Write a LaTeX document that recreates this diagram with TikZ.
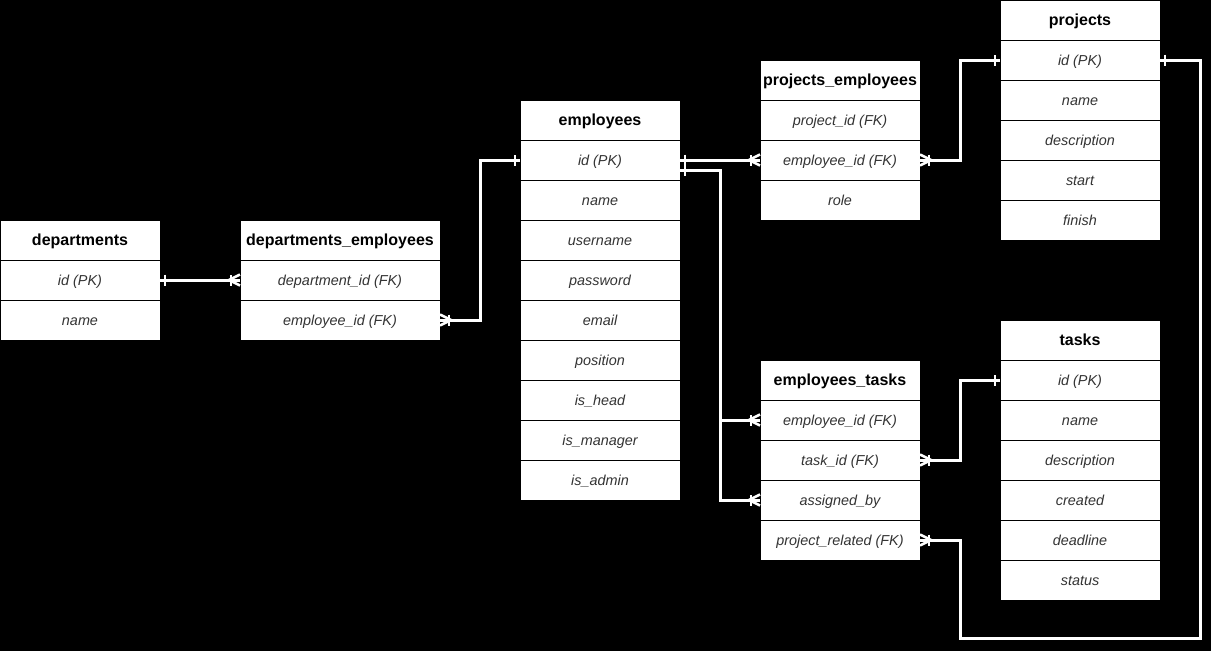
\documentclass[tikz,border=0pt]{standalone}
\usepackage{fontspec}
\setmainfont{Liberation Sans}
\usetikzlibrary{calc}
\definecolor{rowtext}{HTML}{333333}

\tikzset{
  cell/.style={draw=black, fill=white, line width=1pt, inner sep=0pt, outer sep=0pt,
    minimum height=40pt, text height=13pt, text depth=3pt, anchor=north west},
  hdr/.style={cell, font=\fontsize{16}{19}\selectfont\bfseries, text=black},
  fld/.style={cell, font=\fontsize{14.4}{17}\selectfont\itshape, text=rowtext},
  conn/.style={draw=white, line width=3pt},
  tickmark/.style={draw=white, line width=2.5pt},
  % mandatory one: a single bar across the line
  pics/one/.style={code={\draw[tickmark] (5,-5.5) -- (5,5.5);}},
  % one-to-many: crow's foot with a bar
  pics/many/.style={code={
    \draw[tickmark] (0,-5.5) -- (11,0) -- (0,5.5);
    \draw[tickmark] (9,-5.5) -- (9,5.5);}},
}

% \ertable{prefix}{x}{y}{width}{title}{fields}
\newcommand{\ertable}[6]{%
  \node[hdr, minimum width=#4pt] (#1-h) at (#2,#3) {#5};
  \foreach \fieldname [count=\i] in {#6} {
    \node[fld, minimum width=#4pt] (#1-\i) at (#2,#3+40*\i) {\fieldname};
  }
}

\begin{document}
\begin{tikzpicture}[x=1pt, y=-1pt]
  \fill[black] (0,0) rectangle (1211,651);
  \useasboundingbox (0,0) rectangle (1211,651);

  % tables
  \ertable{dep}{0}{220}{160}{departments}{id (PK), name}
  \ertable{de}{240}{220}{200}{departments\_employees}{department\_id (FK), employee\_id (FK)}
  \ertable{emp}{520}{100}{160}{employees}{id (PK), name, username, password, email, position, is\_head, is\_manager, is\_admin}
  \ertable{pe}{760}{60}{160}{projects\_employees}{project\_id (FK), employee\_id (FK), role}
  \ertable{prj}{1000}{0}{160}{projects}{id (PK), name, description, start, finish}
  \ertable{tsk}{1000}{320}{160}{tasks}{id (PK), name, description, created, deadline, status}
  \ertable{et}{760}{360}{160}{employees\_tasks}{employee\_id (FK), task\_id (FK), assigned\_by, project\_related (FK)}

  % relationships
  \draw[conn] (dep-1.east) -- (de-1.west);
  \pic at (dep-1.east) {one};
  \pic[rotate=180] at (de-1.west) {many};

  \draw[conn] (emp-1.west) -- ++(-40,0) |- (de-2.east);
  \pic[rotate=180] at (emp-1.west) {one};
  \pic at (de-2.east) {many};

  \draw[conn] (emp-1.east) -- (pe-2.west);
  \pic at (emp-1.east) {one};
  \pic[rotate=180] at (pe-2.west) {many};

  \coordinate (empout) at ([yshift=-10pt]emp-1.east);
  \draw[conn] (empout) -- ++(40,0) |- (et-1.west);
  \draw[conn] (empout) -- ++(40,0) |- (et-3.west);
  \pic at (empout) {one};
  \pic[rotate=180] at (et-1.west) {many};
  \pic[rotate=180] at (et-3.west) {many};

  \draw[conn] (prj-1.west) -- ++(-40,0) |- (pe-2.east);
  \pic[rotate=180] at (prj-1.west) {one};
  \pic at (pe-2.east) {many};

  \draw[conn] (tsk-1.west) -- ++(-40,0) |- (et-2.east);
  \pic[rotate=180] at (tsk-1.west) {one};
  \pic at (et-2.east) {many};

  \coordinate (loopR) at (1200,638);
  \coordinate (loopL) at (960,638);
  \draw[conn] (prj-1.east) -| (loopR) -- (loopL) |- (et-4.east);
  \pic at (prj-1.east) {one};
  \pic at (et-4.east) {many};
\end{tikzpicture}
\end{document}
